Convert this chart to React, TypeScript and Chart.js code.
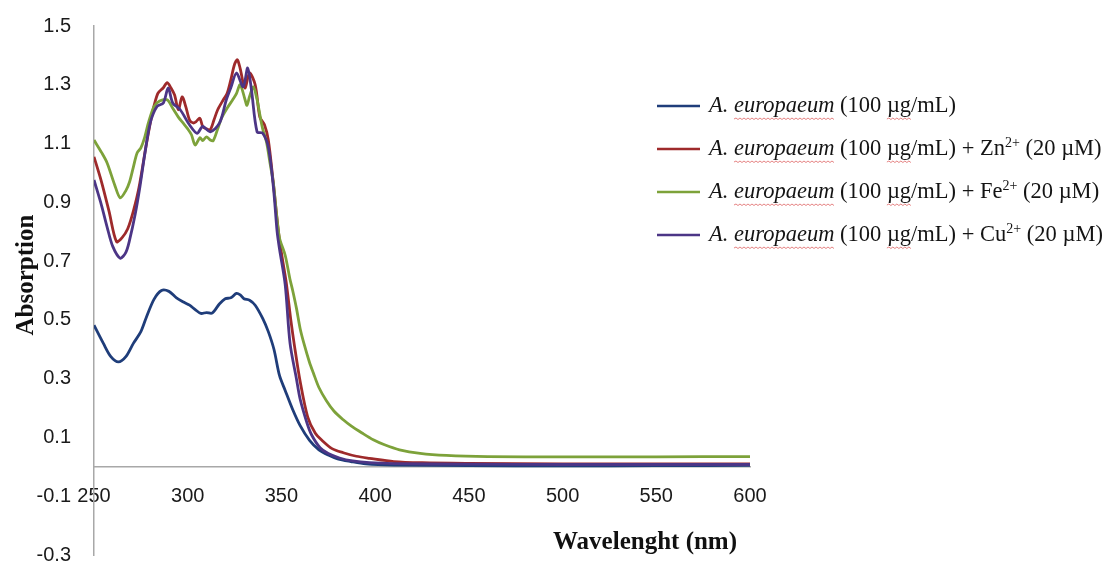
import React, { useEffect, useRef } from "react";
import { Chart, registerables } from "chart.js";

Chart.register(...registerables);

// ---------- data ----------
const seriesLabels = [
  "A. europaeum (100 µg/mL)",
  "A. europaeum (100 µg/mL) + Zn²⁺ (20 µM)",
  "A. europaeum (100 µg/mL) + Fe²⁺ (20 µM)",
  "A. europaeum (100 µg/mL) + Cu²⁺ (20 µM)",
];
const seriesColors = ["#1F3D7A", "#9E2A2B", "#7DA23A", "#4C3586"];

const baseWavelength = [
  250, 255, 259, 263, 267, 271, 275, 278, 282, 286, 290, 294, 298, 301, 304, 307, 310, 313, 317, 320, 323, 326, 328,
  330, 333, 336, 340, 343, 346, 349, 352, 356, 360, 365, 370, 375, 380, 387, 395, 410, 450, 500, 550, 600,
];
const baseAbsorption = [
  0.482, 0.42, 0.375, 0.357, 0.375, 0.42, 0.46, 0.51, 0.57, 0.6, 0.597, 0.575, 0.56, 0.55, 0.535, 0.522, 0.525, 0.523,
  0.555, 0.572, 0.575, 0.59, 0.585, 0.572, 0.567, 0.55, 0.505, 0.46, 0.4, 0.31, 0.26, 0.195, 0.14, 0.09, 0.058, 0.04,
  0.027, 0.018, 0.01, 0.006, 0.004, 0.003, 0.004, 0.005,
];

const znWavelength = [
  250, 254, 258, 262, 265, 268, 271, 274, 278, 281, 284, 287, 289, 291, 293, 295, 297, 299, 301, 303, 304.5, 306.5,
  308, 310, 312, 314, 316, 319, 321, 323, 325, 326.5, 328, 330.5, 333, 336, 338.5, 341, 343, 345.5, 349, 352.5, 355,
  357, 360, 364, 368, 372, 377, 383, 390, 397, 410, 425, 450, 500, 550, 600,
];
const znAbsorption = [
  1.055, 0.97, 0.87, 0.766, 0.78, 0.81, 0.87, 0.95, 1.1, 1.2, 1.27, 1.29, 1.307, 1.29, 1.265, 1.215, 1.259, 1.225,
  1.18, 1.17, 1.175, 1.186, 1.158, 1.15, 1.147, 1.18, 1.215, 1.249, 1.27, 1.317, 1.37, 1.385, 1.355, 1.289, 1.34, 1.3,
  1.19, 1.163, 1.112, 0.976, 0.77, 0.63, 0.5, 0.41, 0.29, 0.17, 0.115, 0.088, 0.062, 0.048, 0.036, 0.029, 0.018, 0.014,
  0.012, 0.01, 0.01, 0.01,
];

const feWavelength = [
  250, 254, 257, 261, 264, 267, 269, 271, 273, 275, 277, 279, 282, 285, 289, 292, 295, 297.5, 300, 302, 304, 306.5,
  308, 310, 312, 313.6, 316, 318, 321, 324, 326, 328, 330.6, 331.6, 333, 335, 337, 338.5, 340, 342, 344, 345.7, 347.5,
  349, 352, 354.5, 356, 358, 360, 362, 365, 367, 370, 374, 378, 383, 387, 393, 399, 405, 413, 424, 438, 460, 500, 550,
  600,
];
const feAbsorption = [
  1.112, 1.07, 1.034, 0.96, 0.915, 0.94, 0.97, 1.02, 1.068, 1.085, 1.12, 1.17, 1.226, 1.245, 1.249, 1.22, 1.19, 1.17,
  1.15, 1.13, 1.095, 1.12, 1.11, 1.123, 1.112, 1.11, 1.15, 1.186, 1.22, 1.249, 1.27, 1.3, 1.249, 1.23, 1.26, 1.293,
  1.25, 1.198, 1.15, 1.106, 1.03, 0.966, 0.85, 0.778, 0.72, 0.64, 0.6, 0.54, 0.47, 0.42, 0.355, 0.32, 0.27, 0.225,
  0.19, 0.16, 0.14, 0.115, 0.092, 0.075, 0.058, 0.046, 0.039, 0.035, 0.034, 0.034, 0.035,
];

const cuWavelength = [
  250, 254, 257, 260, 264, 267, 269, 272, 274.5, 277, 280, 283.6, 287, 289.6, 292, 296, 301, 305, 308, 312, 317,
  320.6, 323, 326, 329.6, 332, 334, 337, 340, 343, 345.7, 347.7, 349, 352, 354.6, 358, 360, 363.6, 366, 370.6, 375,
  381, 388, 397, 410, 450, 500, 550, 600,
];
const cuAbsorption = [
  0.976, 0.89, 0.816, 0.75, 0.71, 0.73, 0.772, 0.86, 0.953, 1.06, 1.17, 1.226, 1.238, 1.289, 1.238, 1.215, 1.163,
  1.135, 1.158, 1.14, 1.17, 1.249, 1.29, 1.34, 1.293, 1.357, 1.283, 1.14, 1.135, 1.088, 0.953, 0.8, 0.74, 0.62, 0.42,
  0.3, 0.23, 0.15, 0.11, 0.065, 0.045, 0.03, 0.02, 0.014, 0.011, 0.009, 0.008, 0.008, 0.008,
];

const xTickValues = [250, 300, 350, 400, 450, 500, 550, 600];
const yTickValues = [-0.3, -0.1, 0.1, 0.3, 0.5, 0.7, 0.9, 1.1, 1.3, 1.5];
const xTitle = "Wavelenght (nm)";
const yTitle = "Absorption";
const italicPrefix = "A. europaeum";

const seriesWavelengths = [baseWavelength, znWavelength, feWavelength, cuWavelength];
const seriesAbsorptions = [baseAbsorption, znAbsorption, feAbsorption, cuAbsorption];
const drawOrder = [4, 3, 2, 1];

// ---------- helpers ----------
const SUPS: Record<string, string> = { "²": "2", "⁺": "+" };

function squiggle(ctx: CanvasRenderingContext2D, x1: number, x2: number, y: number) {
  ctx.save();
  ctx.strokeStyle = "rgba(220,90,90,0.75)";
  ctx.lineWidth = 1;
  ctx.beginPath();
  let up = true;
  ctx.moveTo(x1, y);
  for (let x = x1 + 2; x <= x2; x += 2) {
    ctx.lineTo(x, up ? y - 1 : y + 0.5);
    up = !up;
  }
  ctx.stroke();
  ctx.restore();
}

const richLegend = {
  id: "richLegend",
  afterDraw(chart: any) {
    const ctx: CanvasRenderingContext2D = chart.ctx;
    const lineX0 = 657;
    const lineX1 = 700;
    const textX = 709;
    const rowY0 = 106;
    const rowGap = 43;
    const base = "22.5px 'Liberation Serif', 'Times New Roman', serif";
    const ital = "italic 22.5px 'Liberation Serif', 'Times New Roman', serif";
    const sup = "14px 'Liberation Serif', 'Times New Roman', serif";
    chart.data.datasets.forEach((ds: any, i: number) => {
      const y = rowY0 + i * rowGap;
      ctx.save();
      ctx.strokeStyle = ds.borderColor;
      ctx.lineWidth = 2.6;
      ctx.beginPath();
      ctx.moveTo(lineX0, y);
      ctx.lineTo(lineX1, y);
      ctx.stroke();

      ctx.fillStyle = "#141414";
      ctx.textBaseline = "middle";
      ctx.textAlign = "left";
      const label: string = ds.label;
      let x = textX;
      let rest = label;
      if (label.startsWith(italicPrefix)) {
        ctx.font = ital;
        ctx.fillText(italicPrefix, x, y);
        const aw = ctx.measureText("A. ").width;
        const ew = ctx.measureText("europaeum").width;
        squiggle(ctx, x + aw, x + aw + ew, y + 13);
        x += ctx.measureText(italicPrefix).width;
        rest = label.slice(italicPrefix.length);
      }
      let buf = "";
      const flush = () => {
        if (!buf) return;
        ctx.font = base;
        ctx.fillText(buf, x, y);
        const muIdx = buf.indexOf("µg");
        if (muIdx >= 0) {
          const pre = ctx.measureText(buf.slice(0, muIdx)).width;
          const w = ctx.measureText("µg").width;
          squiggle(ctx, x + pre, x + pre + w, y + 13);
        }
        x += ctx.measureText(buf).width;
        buf = "";
      };
      for (const ch of rest) {
        if (SUPS[ch]) {
          flush();
          ctx.font = sup;
          ctx.fillText(SUPS[ch], x, y - 6);
          x += ctx.measureText(SUPS[ch]).width;
        } else {
          buf += ch;
        }
      }
      flush();
      ctx.restore();
    });
  },
};

const axisTitles = {
  id: "axisTitles",
  afterDraw(chart: any) {
    const ctx: CanvasRenderingContext2D = chart.ctx;
    ctx.save();
    ctx.fillStyle = "#111";
    ctx.font = "bold 25px 'Liberation Serif', 'Times New Roman', serif";
    ctx.textAlign = "center";
    ctx.textBaseline = "middle";
    ctx.fillText(xTitle, 645, 543);
    ctx.translate(27, 275);
    ctx.rotate(-Math.PI / 2);
    ctx.fillText(yTitle, 0, 0);
    ctx.restore();
  },
};

export default function App() {
  const canvasRef = useRef<HTMLCanvasElement | null>(null);

  useEffect(() => {
    if (!canvasRef.current) return;
    const tickFont = { family: "'Liberation Sans', Arial, sans-serif", size: 20, lineHeight: 0.8 };
    const chart = new Chart(canvasRef.current, {
      type: "line",
      data: {
        datasets: seriesLabels.map((label, i) => ({
          label,
          data: seriesWavelengths[i].map((w, j) => ({ x: w, y: seriesAbsorptions[i][j] })),
          borderColor: seriesColors[i],
          backgroundColor: seriesColors[i],
          borderWidth: 2.8,
          pointRadius: 0,
          tension: 0.3,
          fill: false,
          order: drawOrder[i],
        })),
      },
      options: {
        animation: false,
        responsive: true,
        maintainAspectRatio: false,
        layout: { padding: { left: 0, right: 355, top: 26, bottom: 8 } },
        plugins: {
          legend: { display: false },
          tooltip: { enabled: false },
          title: { display: false },
        },
        scales: {
          x: {
            type: "linear",
            position: { y: 0 },
            min: 250,
            max: 600,
            afterBuildTicks: (scale: any) => {
              scale.ticks = xTickValues.map((v) => ({ value: v }));
            },
            afterFit: (scale: any) => {
              scale.height = 0;
            },
            grid: { display: false, drawTicks: false },
            border: { display: true, color: "#a8a8a8", width: 1.5 },
            ticks: {
              padding: 22,
              maxRotation: 0,
              autoSkip: false,
              color: "#1a1a1a",
              font: tickFont,
              callback: (v: any) => String(v),
            },
          },
          y: {
            type: "linear",
            min: -0.3,
            max: 1.5,
            afterBuildTicks: (scale: any) => {
              scale.ticks = yTickValues.map((v) => ({ value: v }));
            },
            afterFit: (scale: any) => {
              scale.width = 94;
              scale.paddingTop = 0;
              scale.paddingBottom = 0;
            },
            grid: { display: false, drawTicks: false },
            border: { display: true, color: "#a8a8a8", width: 1.5 },
            ticks: {
              padding: 23,
              autoSkip: false,
              color: "#1a1a1a",
              font: tickFont,
              callback: (v: any) => Number(v).toFixed(1),
            },
          },
        },
      },
      plugins: [richLegend, axisTitles],
    });
    return () => chart.destroy();
  }, []);

  return (
    <div style={{ position: "absolute", left: 0, top: 0, width: 1105, height: 563, background: "#fff" }}>
      <canvas ref={canvasRef} />
    </div>
  );
}
